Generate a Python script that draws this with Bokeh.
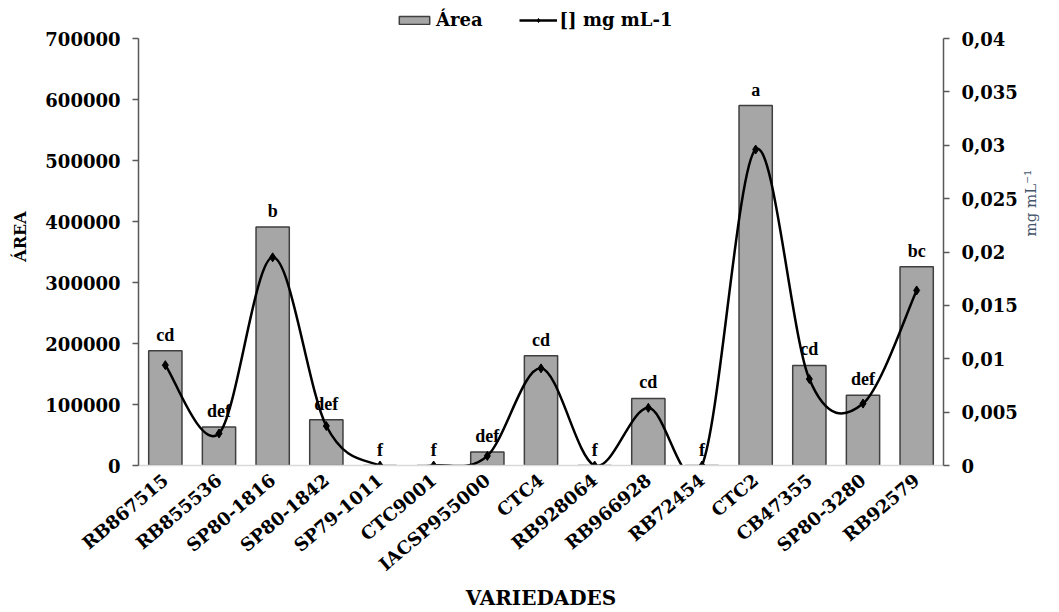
import math
import numpy as np
from bokeh.plotting import figure
from bokeh.models import (Range1d, LinearAxis, FixedTicker, CustomJSTickFormatter,
                          NumeralTickFormatter, ColumnDataSource, LabelSet,
                          Legend, LegendItem, FactorRange)
from bokeh.embed import file_html
from bokeh.resources import INLINE

# Sugarcane varieties
varieties = ["RB867515", "RB855536", "SP80-1816", "SP80-1842", "SP79-1011",
             "CTC9001", "IACSP955000", "CTC4", "RB928064", "RB966928",
             "RB72454", "CTC2", "CB47355", "SP80-3280", "RB92579"]

# Peak area (left axis)
area = [188000, 63000, 391000, 75000, 0,
        0, 22000, 180000, 0, 110000,
        0, 590000, 164000, 115000, 326000]

# Concentration, mg mL-1 (right axis)
conc = [0.0094, 0.0030, 0.0195, 0.0037, 0.0,
        0.0, 0.0009, 0.0091, 0.0, 0.0054,
        0.0, 0.0296, 0.0081, 0.0058, 0.0164]

# Tukey grouping letters
letters = ["cd", "def", "b", "def", "f",
           "f", "def", "cd", "f", "cd",
           "f", "a", "cd", "def", "bc"]

area_ticks = [0, 100000, 200000, 300000, 400000, 500000, 600000, 700000]
conc_ticks = [0, 0.005, 0.01, 0.015, 0.02, 0.025, 0.03, 0.035, 0.04]

SERIF = "DejaVu Serif"
W, H = 1059, 612
LEFT, RIGHT, TOP, BOTTOM = 138, 116, 7, 147
AXIS_TOP = 38                      # pixel row of the highest tick
FRAME_H = H - TOP - BOTTOM         # frame reaches up into the legend band
stretch = FRAME_H / (H - BOTTOM - AXIS_TOP)

p = figure(width=W, height=H,
           x_range=FactorRange(*varieties),
           y_range=Range1d(area_ticks[0], area_ticks[-1] * stretch),
           output_backend="svg", toolbar_location=None,
           min_border_left=LEFT, min_border_right=RIGHT,
           min_border_top=TOP, min_border_bottom=BOTTOM)
p.extra_y_ranges = {"conc": Range1d(conc_ticks[0], conc_ticks[-1] * stretch)}
p.outline_line_color = None
p.xgrid.visible = False
p.ygrid.visible = False
p.background_fill_color = "white"
p.border_fill_color = "white"

# Bars
src = ColumnDataSource(dict(v=varieties, area=area, letters=letters, conc=conc))
bars = p.vbar(x="v", top="area", width=0.62, source=src,
              fill_color="#a6a6a6", line_color="#3f3f3f", line_width=1.5)

# Smoothed concentration curve: cubic Bezier segments through the points
xs = np.arange(len(varieties)) + 0.5
cs = np.array(conc)
x_prev = np.r_[xs[0], xs[:-1]]
x_next = np.r_[xs[1:], xs[-1]]
c_prev = np.r_[cs[0], cs[:-1]]
c_next = np.r_[cs[1:], cs[-1]]
tx = (x_next - x_prev) / 6.0
tc = (c_next - c_prev) / 6.0
curve = ColumnDataSource(dict(
    x0=xs[:-1], y0=cs[:-1], x1=xs[1:], y1=cs[1:],
    cx0=xs[:-1] + tx[:-1], cy0=cs[:-1] + tc[:-1],
    cx1=xs[1:] - tx[1:], cy1=cs[1:] - tc[1:],
))
line_r = p.bezier(x0="x0", y0="y0", x1="x1", y1="y1",
                  cx0="cx0", cy0="cy0", cx1="cx1", cy1="cy1",
                  source=curve, y_range_name="conc",
                  line_color="black", line_width=2.5)
pts = p.scatter(x="v", y="conc", source=src, y_range_name="conc",
                marker="diamond", size=9, fill_color="black", line_color="black")

# Letters above bars
labels = LabelSet(x="v", y="area", text="letters", source=src,
                  y_offset=6, text_align="center", text_baseline="bottom",
                  text_font=SERIF, text_font_style="bold", text_font_size="18px",
                  text_color="black")
p.add_layout(labels)


def style_value_axis(ax):
    ax.major_label_text_font = SERIF
    ax.major_label_text_font_style = "bold"
    ax.major_label_text_font_size = "18px"
    ax.major_label_text_color = "black"
    ax.major_label_standoff = 12
    ax.major_tick_out = 6
    ax.major_tick_in = 0
    ax.minor_tick_out = 0
    ax.minor_tick_in = 0
    ax.axis_line_color = "#595959"
    ax.axis_line_width = 1.5
    ax.major_tick_line_color = "#595959"
    ax.major_tick_line_width = 1.5


# Left axis
ya = p.yaxis[0]
ya.ticker = FixedTicker(ticks=area_ticks)
ya.bounds = (area_ticks[0], area_ticks[-1])
ya.formatter = NumeralTickFormatter(format="0")
ya.axis_label = "ÁREA"
ya.axis_label_text_font = SERIF
ya.axis_label_text_font_style = "bold"
ya.axis_label_text_font_size = "16px"
ya.axis_label_text_color = "black"
ya.axis_label_standoff = 12
style_value_axis(ya)

# Right axis
ra = LinearAxis(y_range_name="conc", ticker=FixedTicker(ticks=conc_ticks),
                bounds=(conc_ticks[0], conc_ticks[-1]))
ra.formatter = CustomJSTickFormatter(
    code="return (Math.round(tick * 1000) / 1000).toString().replace('.', ',');")
ra.axis_label = "mg mL⁻¹"
ra.axis_label_text_font = SERIF
ra.axis_label_text_font_style = "normal"
ra.axis_label_text_font_size = "15px"
ra.axis_label_text_color = "#44546A"
ra.axis_label_standoff = 10
if "axis_label_orientation" in ra.properties():
    ra.axis_label_orientation = math.pi / 2
style_value_axis(ra)
p.add_layout(ra, "right")

# Bottom axis
xa = p.xaxis[0]
xa.axis_label = "VARIEDADES"
xa.axis_label_text_font = SERIF
xa.axis_label_text_font_style = "bold"
xa.axis_label_text_font_size = "20px"
xa.axis_label_text_color = "black"
xa.axis_label_standoff = 0
xa.major_label_orientation = 0.7
xa.major_label_text_font = SERIF
xa.major_label_text_font_style = "bold"
xa.major_label_text_font_size = "18px"
xa.major_label_text_color = "black"
xa.major_label_standoff = 12
xa.major_tick_out = 0
xa.major_tick_in = 0
xa.axis_line_color = "#d9d9d9"
xa.axis_line_width = 1.5

# Legend across the top of the frame
legend = Legend(items=[LegendItem(label="Área", renderers=[bars]),
                       LegendItem(label="[] mg mL-1", renderers=[line_r, pts])],
                orientation="horizontal", location=(257, FRAME_H - 23),
                glyph_width=38, glyph_height=10, label_standoff=3, spacing=36,
                padding=0, margin=0, border_line_color=None,
                background_fill_alpha=0,
                label_text_font=SERIF, label_text_font_style="bold",
                label_text_font_size="18px", label_text_color="black")
p.add_layout(legend)

open("out.html", "w").write(file_html(p, INLINE))
